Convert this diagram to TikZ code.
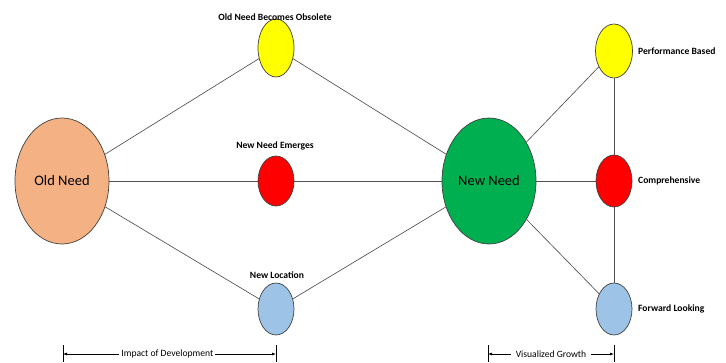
\documentclass[tikz,border=0pt]{standalone}
\usepackage{fontspec}
\setmainfont{Carlito}
\usetikzlibrary{shapes.geometric,arrows.meta}
\definecolor{oldfill}{HTML}{F4B183}
\definecolor{newfill}{HTML}{00B050}
\definecolor{yel}{HTML}{FFFF00}
\definecolor{rd}{HTML}{FF0000}
\definecolor{blu}{HTML}{9DC3E6}
\definecolor{edge}{HTML}{404040}
\definecolor{wire}{HTML}{505050}
\begin{document}
\begin{tikzpicture}[x=1pt,y=-1pt,
  bubble/.style={ellipse,draw=edge,line width=0.7pt,inner sep=0pt},
  big/.style={bubble,minimum width=94pt,minimum height=126pt,font=\fontsize{14.5}{17}\selectfont},
  small/.style={bubble,minimum width=36pt,minimum height=52pt},
  tag/.style={font=\bfseries\fontsize{9.6}{11}\selectfont,inner sep=1pt},
  link/.style={draw=wire,line width=0.65pt},
  dim/.style={draw=black,line width=0.6pt},
  dimlbl/.style={font=\fontsize{9.6}{11}\selectfont,fill=white,inner sep=2pt}]
\useasboundingbox (0,0) rectangle (726,362);

% main needs
\node[big,fill=oldfill] (old) at (62,181) {Old Need};
\node[big,fill=newfill] (new) at (489,181) {New Need};

% middle column
\node[small,fill=yel,minimum height=58pt] (obs) at (276,48) {};
\node[small,fill=rd,minimum height=50pt] (emg) at (276,181) {};
\node[small,fill=blu] (loc) at (276,309) {};

% right column
\node[small,fill=yel,minimum width=37pt,minimum height=54pt] (perf) at (614,51) {};
\node[small,fill=rd,minimum height=52pt] (comp) at (614,181) {};
\node[small,fill=blu] (fwd) at (614,309) {};

% labels
\node[tag] (tobs) at (275,17) {Old Need Becomes Obsolete};
\node[tag] (temg) at (275,146) {New Need Emerges};
\node[tag] (tloc) at (277,275) {New Location};
\node[tag,anchor=west] (tperf) at (637,51) {Performance Based};
\node[tag,anchor=west] (tcomp) at (637,181) {Comprehensive};
\node[tag,anchor=west] (tfwd) at (637,309) {Forward Looking};

% connectors
\path[link] (old) -- (obs);
\path[link] (old) -- (emg);
\path[link] (old) -- (loc);
\path[link] (obs) -- (new);
\path[link] (emg) -- (new);
\path[link] (loc) -- (new);
\path[link] (new) -- (perf);
\path[link] (new) -- (comp);
\path[link] (new) -- (fwd);
\path[link] (perf) -- (comp);
\path[link] (comp) -- (fwd);

% dimension marks
\coordinate (a1) at (63,345);  \coordinate (a1b) at (63,362);
\coordinate (a2) at (276,345); \coordinate (a2b) at (276,362);
\coordinate (b1) at (488,345); \coordinate (b1b) at (488,362);
\coordinate (b2) at (614,345); \coordinate (b2b) at (614,362);
\draw[dim] (a1) -- (a1b);
\draw[dim] (a2) -- (a2b);
\draw[dim] (b1) -- (b1b);
\draw[dim] (b2) -- (b2b);
\coordinate (la) at (63,354);  \coordinate (ra) at (276,354);
\coordinate (lb) at (488,354); \coordinate (rb) at (614,354);
\draw[dim,{Latex[length=4pt,width=3pt]}-{Latex[length=4pt,width=3pt]}] (la) -- (ra)
  node[dimlbl,pos=0.49] (timp) {Impact of Development};
\draw[dim,{Latex[length=4pt,width=3pt]}-{Latex[length=4pt,width=3pt]}] (lb) -- (rb)
  node[dimlbl,pos=0.5,inner xsep=5pt] (tvis) {Visualized Growth};
\end{tikzpicture}
\end{document}
